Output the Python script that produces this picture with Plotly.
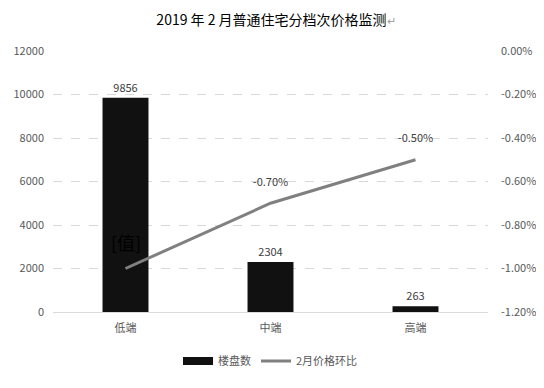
import plotly.graph_objects as go

categories = ["低端", "中端", "高端"]
counts = [9856, 2304, 263]
changes = [-0.010, -0.007, -0.005]
change_labels = ["[值]", "-0.70%", "-0.50%"]
left_ticks = [0, 2000, 4000, 6000, 8000, 10000, 12000]
left_tick_text = ["0", "2000", "4000", "6000", "8000", "10000", "12000"]
right_ticks = [0, -0.002, -0.004, -0.006, -0.008, -0.010, -0.012]
right_tick_text = ["0.00%", "-0.20%", "-0.40%", "-0.60%", "-0.80%", "-1.00%", "-1.20%"]

FONT = "Noto Sans CJK SC, Microsoft YaHei, sans-serif"
TICK_COLOR = "#595959"
BAR_COLOR = "#111111"

fig = go.Figure()
fig.add_trace(go.Bar(
    x=categories, y=counts, name="楼盘数", showlegend=False,
    marker=dict(color=BAR_COLOR, line=dict(width=0)),
    width=0.317,
    text=[str(v) for v in counts], textposition="outside",
    textfont=dict(size=11, color="#404040", family=FONT),
    cliponaxis=False,
))
# legend swatch for the bar series (wide flat rectangle like the original)
fig.add_trace(go.Scatter(
    x=[categories[0]], y=[None], name="楼盘数", mode="lines",
    line=dict(color=BAR_COLOR, width=8), hoverinfo="skip",
))
fig.add_trace(go.Scatter(
    x=categories, y=changes, name="2月价格环比", yaxis="y2",
    mode="lines+markers+text",
    line=dict(color="#808080", width=3),
    marker=dict(size=22, color="rgba(0,0,0,0)", line=dict(width=0)),
    text=[""] + change_labels[1:], textposition="top center",
    textfont=dict(size=11, color="#404040", family=FONT),
    cliponaxis=False,
))
fig.add_annotation(
    x=categories[0], y=changes[0], xref="x", yref="y2",
    text=change_labels[0], showarrow=False, yshift=27,
    font=dict(size=18, color="#000000", family=FONT),
)

fig.update_layout(
    template="none",
    width=536, height=380,
    margin=dict(l=45, r=56, t=43, b=76, autoexpand=False),
    paper_bgcolor="white", plot_bgcolor="white",
    font=dict(family=FONT, size=11, color=TICK_COLOR),
    title=dict(
        text="2019 年 2 月普通住宅分档次价格监测<span style='color:#a0a0a0;font-size:11px'>↵</span>",
        x=0.5, xanchor="center", y=1, yanchor="top", yref="container",
        pad=dict(t=7, b=0, l=0, r=0),
        font=dict(size=14, color="#000000", family=FONT),
    ),
    showlegend=True,
    legend=dict(
        orientation="h", x=0.5, xanchor="center", y=0.071, yanchor="middle",
        yref="container",
        font=dict(size=11, color=TICK_COLOR, family=FONT),
        itemwidth=30, traceorder="normal", bgcolor="rgba(0,0,0,0)",
    ),
    xaxis=dict(
        showgrid=False, showline=True, linecolor="#d9d9d9", linewidth=1,
        ticks="", tickfont=dict(size=11, color=TICK_COLOR), automargin=False,
        ticklabelstandoff=6,
    ),
    yaxis=dict(
        range=[0, 12000], tickvals=left_ticks, ticktext=left_tick_text,
        showgrid=True, gridcolor="#d9d9d9", griddash="dash", gridwidth=1,
        zeroline=False, showline=False, ticks="", automargin=False,
        tickfont=dict(size=11, color=TICK_COLOR), ticklabelstandoff=8,
    ),
    yaxis2=dict(
        range=[-0.012, 0], tickvals=right_ticks, ticktext=right_tick_text,
        overlaying="y", side="right", showgrid=False, zeroline=False,
        showline=False, ticks="", tickfont=dict(size=11, color=TICK_COLOR),
        ticklabelstandoff=12, automargin=False,
    ),
)

fig.write_html("out.html")
